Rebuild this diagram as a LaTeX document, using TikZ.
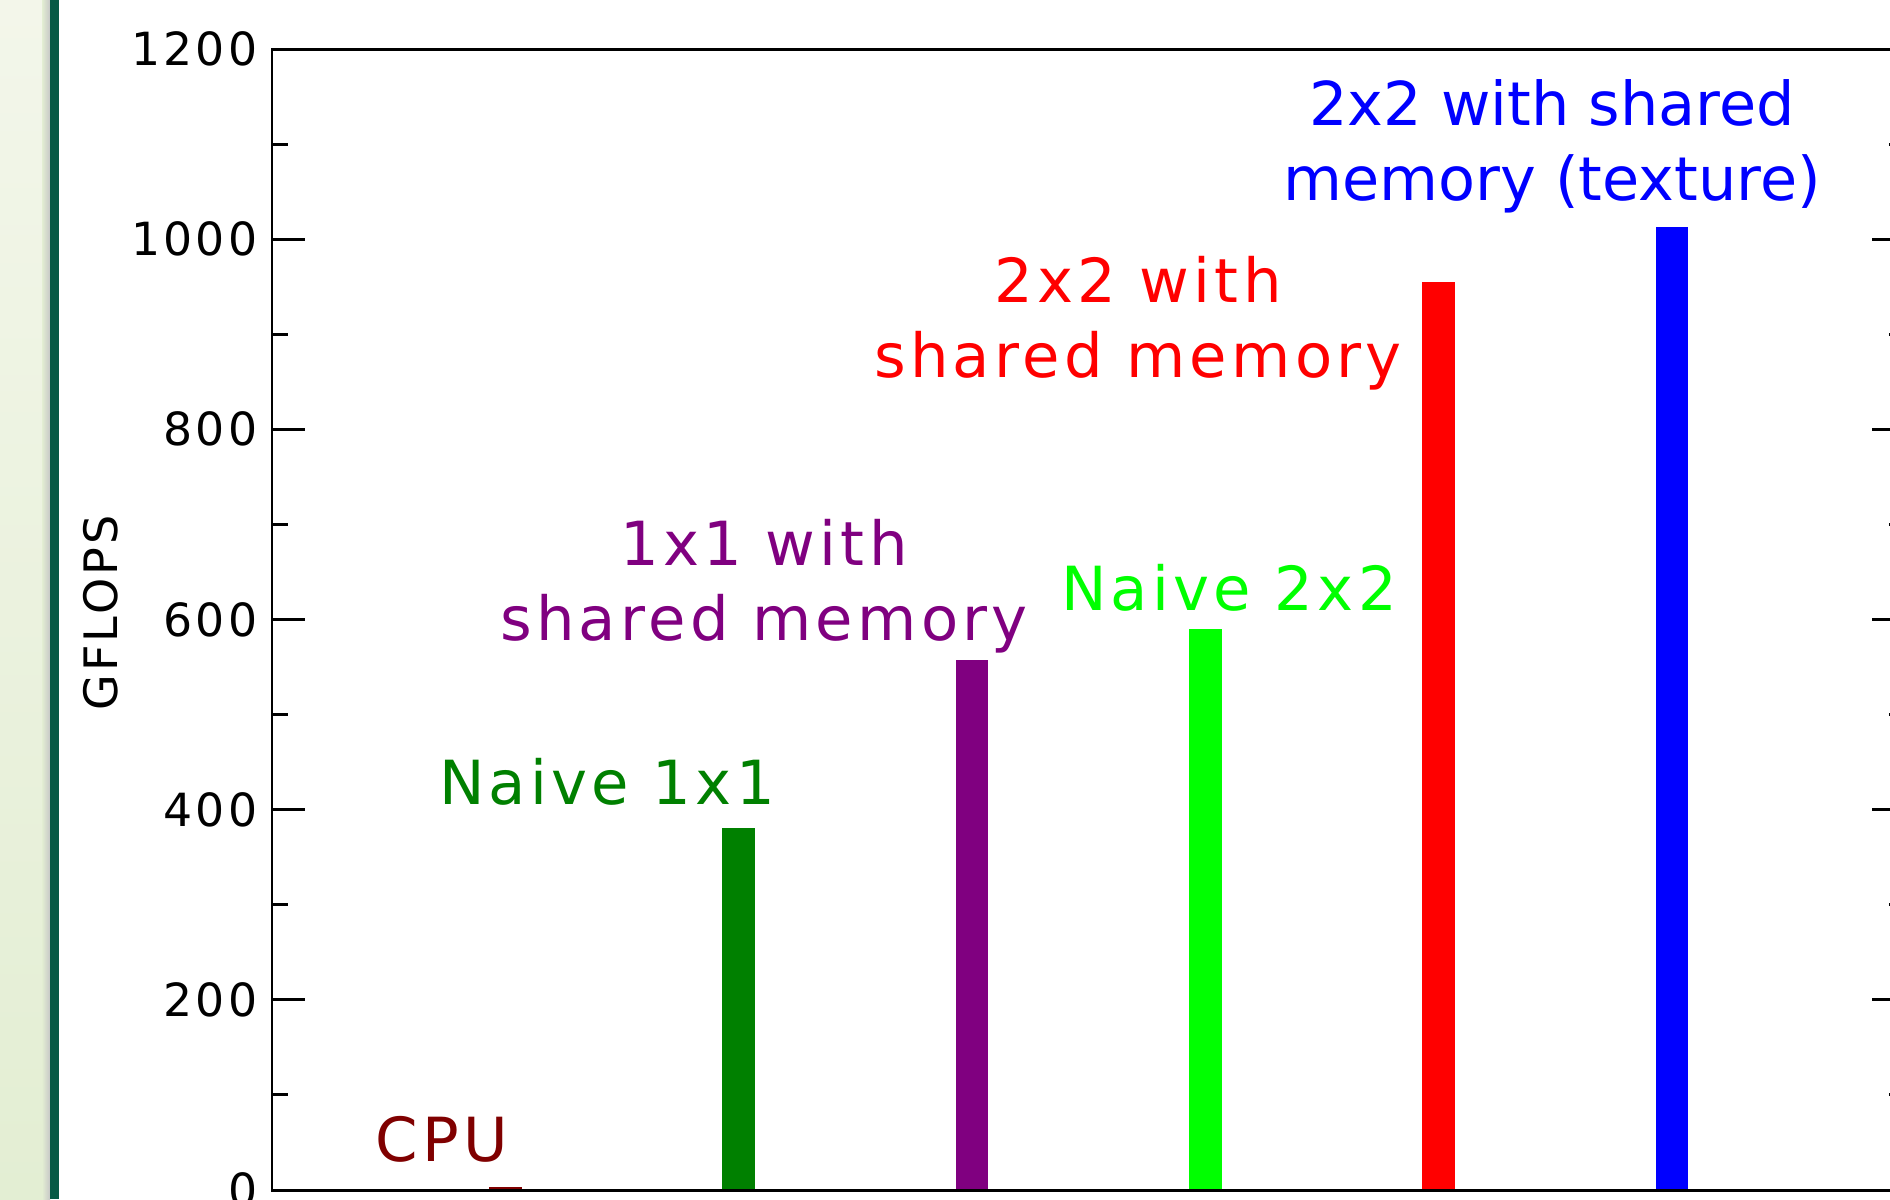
\documentclass[tikz,border=0pt]{standalone}
\usepackage{fontspec}
\newfontfamily\plotfont{DejaVu Sans}[LetterSpace=7]
\newfontfamily\plainfont{DejaVu Sans}
\definecolor{stripTop}{HTML}{F3F6EA}
\definecolor{stripBot}{HTML}{E3EED3}
\definecolor{stripBar}{HTML}{075A45}
\definecolor{cpuCol}{HTML}{800000}
\definecolor{naiveOne}{HTML}{008000}
\definecolor{sharedOne}{HTML}{800080}
\definecolor{naiveTwo}{HTML}{00FF00}
\definecolor{sharedTwo}{HTML}{FF0000}
\definecolor{texTwo}{HTML}{0000FF}
\begin{document}
\begin{tikzpicture}[x=0.01cm,y=-0.01cm,
  axisline/.style={draw=black,line width=0.85pt},
  ticklab/.style={font=\plotfont\fontsize{13}{15}\selectfont,inner sep=0pt,anchor=east},
  barlab/.style={font=\plotfont\fontsize{17.3}{21.1}\selectfont,inner sep=0pt,anchor=base,align=center},
  gbar/.style={fill=#1}]
\useasboundingbox (0,0) rectangle (1890,1199);
\clip (0,0) rectangle (1890,1199);
\fill[white] (0,0) rectangle (1890,1199);
% left strip
\shade[top color=stripTop,bottom color=stripBot] (0,0) rectangle (50,1199);
\shade[left color=stripBot,right color=black!22] (42,0) rectangle (50,1199);
\fill[stripBar] (50,0) rectangle (59,1199);
% bars
\foreach \k/\v/\c in {1/3/cpuCol,2/381/naiveOne,3/557/sharedOne,4/590/naiveTwo,5/955/sharedTwo,6/1013/texTwo}{
  \pgfmathsetmacro{\xc}{272+233.3*\k}
  \pgfmathsetmacro{\yt}{1190-\v*0.95083}
  \fill[gbar=\c] (\xc-16.3,1190) rectangle (\xc+16.3,\yt);
}
% frame
\draw[axisline] (272,49) rectangle (1905,1190);
% ticks
\foreach \v in {0,200,...,1200}{
  \pgfmathsetmacro{\yy}{1190-\v*0.95083}
  \draw[axisline] (272,\yy) -- (305,\yy);
  \draw[axisline] (1905,\yy) -- (1872,\yy);
  \node[ticklab] (t\v) at (258,\yy) {\v};
}
\foreach \v in {100,300,...,1100}{
  \pgfmathsetmacro{\yy}{1190-\v*0.95083}
  \draw[axisline] (272,\yy) -- (288,\yy);
  \draw[axisline] (1905,\yy) -- (1889,\yy);
}
% axis title
\node[font=\plotfont\fontsize{13.1}{15}\selectfont,inner sep=0pt,rotate=90] (ytitle) at (101,613) {GFLOPS};
% bar labels
\node[barlab,text=cpuCol] (lcpu) at (442,1161) {CPU};
\node[barlab,text=naiveOne] (lnaive1) at (607,804) {Naive 1x1};
\node[barlab,text=sharedOne] (lshared1) at (764,640) {1x1 with\\shared memory};
\node[barlab,text=naiveTwo] (lnaive2) at (1229,610) {Naive 2x2};
\node[barlab,text=sharedTwo] (lshared2) at (1138,377) {2x2 with\\shared memory};
\node[barlab,font=\plainfont\fontsize{17.2}{21.1}\selectfont,text=texTwo] (ltex) at (1552,200) {2x2 with shared\\memory (texture)};
\end{tikzpicture}
\end{document}
